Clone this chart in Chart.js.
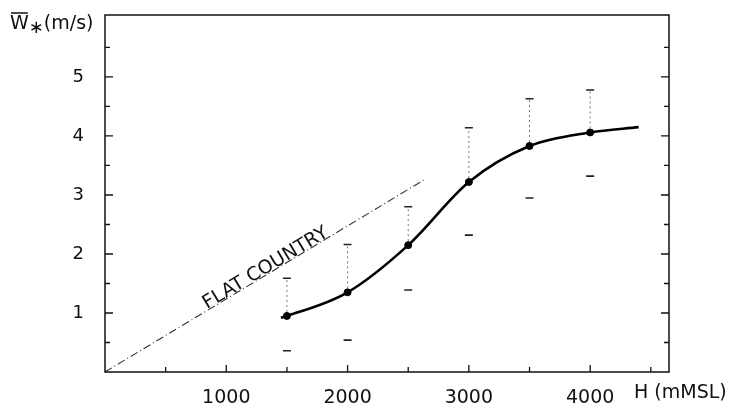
<!DOCTYPE html>
<html>
<head>
<meta charset="utf-8">
<script src="https://cdn.jsdelivr.net/npm/chart.js@4"></script>
<style>
  html, body { margin: 0; padding: 0; background: #fff; }
  #wrap { width: 734px; height: 404px; }
</style>
</head>
<body>
<div id="wrap"><canvas id="wChart"></canvas></div>
<script>
// measured points (H in m MSL, mean W* in m/s)
const heights = [1500, 2000, 2500, 3000, 3500, 4000];
const meanW = [0.95, 1.35, 2.15, 3.22, 3.83, 4.06];
const upperW = [1.59, 2.16, 2.80, 4.14, 4.63, 4.78];
const lowerW = [0.36, 0.54, 1.39, 2.32, 2.95, 3.32];

// fitted curve, a bit past the measured range on both ends
const curveH = [1450, 1500, 2000, 2500, 3000, 3500, 4000, 4400];
const curveW = [0.92, 0.95, 1.35, 2.15, 3.22, 3.83, 4.06, 4.15];

// flat country reference line
const flatH = [0, 2650];
const flatW = [0, 3.28];

const xTicks = [0, 1000, 2000, 3000, 4000];
const yTicks = [0, 1, 2, 3, 4, 5];

const FONT = "'DejaVu Sans', sans-serif";

const frameAndExtras = {
    id: "frameAndExtras",
    afterDatasetsDraw(chart) {
        const ctx = chart.ctx;
        const a = chart.chartArea;
        const xs = chart.scales.x, ys = chart.scales.y;
        ctx.save();

        // error bars: dotted line up to the upper cap, cap marks top and bottom
        for (let i = 0; i < heights.length; i++) {
            const px = xs.getPixelForValue(heights[i]);
            const pm = ys.getPixelForValue(meanW[i]);
            const pu = ys.getPixelForValue(upperW[i]);
            const pl = ys.getPixelForValue(lowerW[i]);
            ctx.strokeStyle = "#777";
            ctx.lineWidth = 1;
            ctx.setLineDash([2, 3]);
            ctx.beginPath();
            ctx.moveTo(px, pm - 4);
            ctx.lineTo(px, pu);
            ctx.stroke();
            ctx.setLineDash([]);
            ctx.strokeStyle = "#222";
            ctx.lineWidth = 1.6;
            ctx.beginPath();
            ctx.moveTo(px - 4, pu); ctx.lineTo(px + 4, pu);
            ctx.moveTo(px - 4, pl); ctx.lineTo(px + 4, pl);
            ctx.stroke();
        }

        // frame
        ctx.strokeStyle = "#111";
        ctx.lineWidth = 1.5;
        ctx.strokeRect(a.left, a.top, a.right - a.left, a.bottom - a.top);

        // inward ticks
        ctx.lineWidth = 1.3;
        ctx.beginPath();
        for (let v = 0.5; v < 6; v += 0.5) {
            const py = ys.getPixelForValue(v);
            const len = Number.isInteger(v) ? 8 : 5;
            ctx.moveTo(a.left, py); ctx.lineTo(a.left + len, py);
            ctx.moveTo(a.right, py); ctx.lineTo(a.right - len, py);
        }
        for (let v = 500; v <= 4500; v += 500) {
            const px = xs.getPixelForValue(v);
            const len = v % 1000 === 0 ? 7 : 5;
            ctx.moveTo(px, a.bottom); ctx.lineTo(px, a.bottom - len);
        }
        ctx.stroke();

        // flat country label along the line
        const p0x = xs.getPixelForValue(flatH[0]), p0y = ys.getPixelForValue(flatW[0]);
        const p1x = xs.getPixelForValue(flatH[1]), p1y = ys.getPixelForValue(flatW[1]);
        const ang = Math.atan2(p1y - p0y, p1x - p0x);
        const tx = xs.getPixelForValue(1350), ty = ys.getPixelForValue(1350 * flatW[1] / flatH[1]);
        ctx.translate(tx, ty);
        ctx.rotate(ang);
        ctx.fillStyle = "#111";
        ctx.font = "19px " + FONT;
        ctx.textAlign = "center";
        ctx.textBaseline = "alphabetic";
        ctx.fillText("FLAT COUNTRY", 0, -1);
        ctx.setTransform(1, 0, 0, 1, 0, 0);
        ctx.restore();

        // axis titles
        ctx.save();
        ctx.fillStyle = "#111";
        ctx.font = "19px " + FONT;
        ctx.textBaseline = "alphabetic";
        ctx.textAlign = "left";
        const by = 29;
        ctx.fillText("W", 10, by);
        const wW = ctx.measureText("W").width;
        ctx.lineWidth = 1.4;
        ctx.beginPath();
        ctx.moveTo(11, by - 16); ctx.lineTo(10 + wW - 1, by - 16);
        ctx.stroke();
        ctx.font = "18px " + FONT;
        ctx.fillText("\u2217", 10 + wW, by + 4);
        const sW = ctx.measureText("\u2217").width;
        ctx.font = "19px " + FONT;
        ctx.fillText("(m/s)", 10 + wW + sW, by);

        ctx.fillText("H (mMSL)", 634, a.bottom + 26);
        ctx.restore();
    }
};

new Chart(document.getElementById("wChart"), {
    type: "scatter",
    data: {
        datasets: [
            {
                label: "fit",
                showLine: true,
                data: curveH.map((h, i) => ({ x: h, y: curveW[i] })),
                borderColor: "#000",
                borderWidth: 2.6,
                cubicInterpolationMode: "monotone",
                pointRadius: 0
            },
            {
                label: "mean",
                data: heights.map((h, i) => ({ x: h, y: meanW[i] })),
                backgroundColor: "#000",
                borderColor: "#000",
                pointRadius: 3.5
            },
            {
                label: "flat country",
                showLine: true,
                data: flatH.map((h, i) => ({ x: h, y: flatW[i] })),
                borderColor: "#333",
                borderWidth: 1.1,
                borderDash: [8, 3, 1, 3],
                pointRadius: 0
            }
        ]
    },
    options: {
        responsive: true,
        maintainAspectRatio: false,
        animation: false,
        layout: { padding: { top: 15, right: 65, left: 0, bottom: 0 } },
        plugins: { legend: { display: false }, tooltip: { enabled: false } },
        scales: {
            x: {
                type: "linear",
                min: 0,
                max: 4650,
                grid: { display: false },
                border: { display: false },
                afterBuildTicks: s => { s.ticks = xTicks.map(v => ({ value: v })); },
                afterFit: s => { s.height = 32; s.paddingLeft = 0; s.paddingRight = 0; },
                ticks: {
                    color: "#111",
                    font: { family: FONT, size: 19 },
                    padding: 7,
                    maxRotation: 0,
                    callback: v => (v === 0 ? "" : String(v))
                }
            },
            y: {
                type: "linear",
                min: 0,
                max: 6.05,
                grid: { display: false },
                border: { display: false },
                afterBuildTicks: s => { s.ticks = yTicks.map(v => ({ value: v })); },
                afterFit: s => { s.width = 105; s.paddingTop = 0; s.paddingBottom = 0; },
                ticks: {
                    color: "#111",
                    font: { family: FONT, size: 18 },
                    padding: 13,
                    callback: v => (v === 0 ? "" : String(v))
                }
            }
        }
    },
    plugins: [frameAndExtras]
});
</script>
</body>
</html>
